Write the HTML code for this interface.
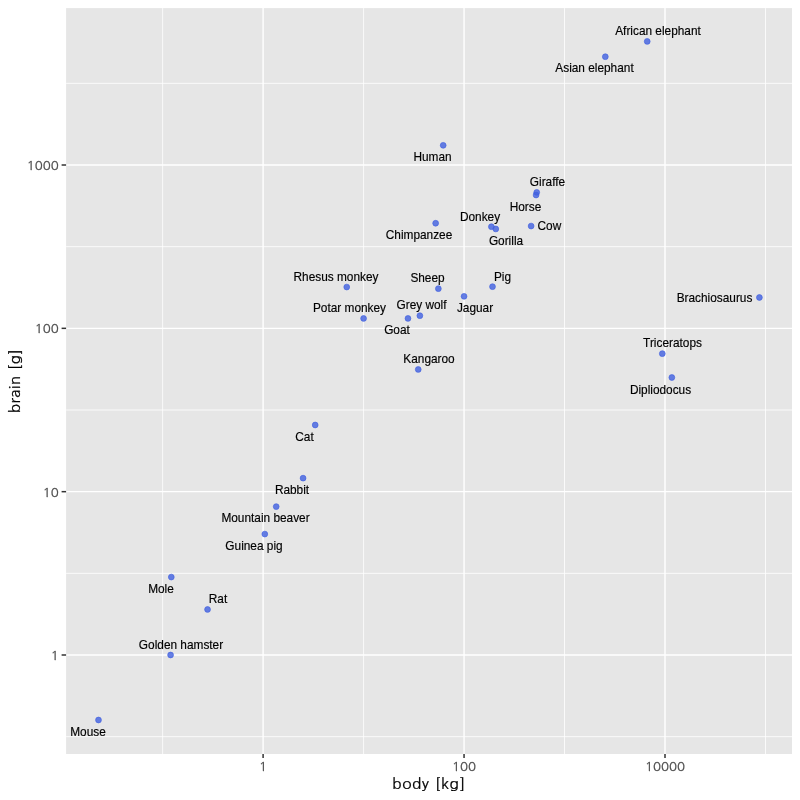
<!DOCTYPE html>
<html><head><meta charset="utf-8"><title>brain vs body</title>
<style>
html,body{margin:0;padding:0;background:#fff;}
svg{display:block;will-change:transform}
.lab{font-family:"Liberation Sans",sans-serif;font-size:11.85px;fill:#000;stroke:#000;stroke-width:0.15px;text-anchor:middle}
.tick{font-family:"NanumGothic","Liberation Sans",sans-serif;font-size:12.6px;fill:#4D4D4D;stroke:#4D4D4D;stroke-width:0.25px}
.title{font-family:"NanumGothic","Liberation Sans",sans-serif;font-size:13.6px;letter-spacing:0.4px;word-spacing:0.8px;fill:#000;stroke:#000;stroke-width:0.25px;text-anchor:middle}
</style></head><body>
<svg width="800" height="800" viewBox="0 0 800 800">
<rect x="0" y="0" width="800" height="800" fill="#fff"/>
<rect x="66.1" y="8.1" width="725.9" height="745.9" fill="#E6E6E6"/>
<line x1="162.63" x2="162.63" y1="8.1" y2="754" stroke="#fff" stroke-width="0.8"/>
<line x1="363.58" x2="363.58" y1="8.1" y2="754" stroke="#fff" stroke-width="0.8"/>
<line x1="564.52" x2="564.52" y1="8.1" y2="754" stroke="#fff" stroke-width="0.8"/>
<line x1="765.48" x2="765.48" y1="8.1" y2="754" stroke="#fff" stroke-width="0.8"/>
<line y1="736.66" y2="736.66" x1="66.1" x2="792" stroke="#fff" stroke-width="0.8"/>
<line y1="573.34" y2="573.34" x1="66.1" x2="792" stroke="#fff" stroke-width="0.8"/>
<line y1="410.00" y2="410.00" x1="66.1" x2="792" stroke="#fff" stroke-width="0.8"/>
<line y1="246.67" y2="246.67" x1="66.1" x2="792" stroke="#fff" stroke-width="0.8"/>
<line y1="83.34" y2="83.34" x1="66.1" x2="792" stroke="#fff" stroke-width="0.8"/>
<line x1="263.10" x2="263.10" y1="8.1" y2="754" stroke="#fff" stroke-width="1.4"/>
<line x1="263.10" x2="263.10" y1="754" y2="758" stroke="#333" stroke-width="1.5"/>
<text class="tick" transform="translate(263.10,771) scale(1.05,1.002)" text-anchor="middle">1</text>
<line x1="464.05" x2="464.05" y1="8.1" y2="754" stroke="#fff" stroke-width="1.4"/>
<line x1="464.05" x2="464.05" y1="754" y2="758" stroke="#333" stroke-width="1.5"/>
<text class="tick" transform="translate(464.05,771) scale(1.05,1.002)" text-anchor="middle">100</text>
<line x1="665.00" x2="665.00" y1="8.1" y2="754" stroke="#fff" stroke-width="1.4"/>
<line x1="665.00" x2="665.00" y1="754" y2="758" stroke="#333" stroke-width="1.5"/>
<text class="tick" transform="translate(665.00,771) scale(1.05,1.002)" text-anchor="middle">10000</text>
<line y1="655.00" y2="655.00" x1="66.1" x2="792" stroke="#fff" stroke-width="1.4"/>
<line y1="655.00" y2="655.00" x1="61.599999999999994" x2="66.1" stroke="#333" stroke-width="1.5"/>
<text class="tick" transform="translate(58.8,659.90) scale(1.05,1.002)" text-anchor="end">1</text>
<line y1="491.67" y2="491.67" x1="66.1" x2="792" stroke="#fff" stroke-width="1.4"/>
<line y1="491.67" y2="491.67" x1="61.599999999999994" x2="66.1" stroke="#333" stroke-width="1.5"/>
<text class="tick" transform="translate(58.8,496.57) scale(1.05,1.002)" text-anchor="end">10</text>
<line y1="328.34" y2="328.34" x1="66.1" x2="792" stroke="#fff" stroke-width="1.4"/>
<line y1="328.34" y2="328.34" x1="61.599999999999994" x2="66.1" stroke="#333" stroke-width="1.5"/>
<text class="tick" transform="translate(58.8,333.24) scale(1.05,1.002)" text-anchor="end">100</text>
<line y1="165.01" y2="165.01" x1="66.1" x2="792" stroke="#fff" stroke-width="1.4"/>
<line y1="165.01" y2="165.01" x1="61.599999999999994" x2="66.1" stroke="#333" stroke-width="1.5"/>
<text class="tick" transform="translate(58.8,169.91) scale(1.05,1.002)" text-anchor="end">1000</text>
<circle cx="276.20" cy="506.62" r="2.9" fill="#4160E0" fill-opacity="0.8" stroke="#4160E0" stroke-opacity="0.8" stroke-width="0.8"/>
<circle cx="531.11" cy="226.04" r="2.9" fill="#4160E0" fill-opacity="0.8" stroke="#4160E0" stroke-opacity="0.8" stroke-width="0.8"/>
<circle cx="419.87" cy="315.70" r="2.9" fill="#4160E0" fill-opacity="0.8" stroke="#4160E0" stroke-opacity="0.8" stroke-width="0.8"/>
<circle cx="407.97" cy="318.43" r="2.9" fill="#4160E0" fill-opacity="0.8" stroke="#4160E0" stroke-opacity="0.8" stroke-width="0.8"/>
<circle cx="264.81" cy="534.08" r="2.9" fill="#4160E0" fill-opacity="0.8" stroke="#4160E0" stroke-opacity="0.8" stroke-width="0.8"/>
<circle cx="671.85" cy="377.51" r="2.9" fill="#4160E0" fill-opacity="0.8" stroke="#4160E0" stroke-opacity="0.8" stroke-width="0.8"/>
<circle cx="605.32" cy="56.72" r="2.9" fill="#4160E0" fill-opacity="0.8" stroke="#4160E0" stroke-opacity="0.8" stroke-width="0.8"/>
<circle cx="491.39" cy="226.71" r="2.9" fill="#4160E0" fill-opacity="0.8" stroke="#4160E0" stroke-opacity="0.8" stroke-width="0.8"/>
<circle cx="536.07" cy="195.02" r="2.9" fill="#4160E0" fill-opacity="0.8" stroke="#4160E0" stroke-opacity="0.8" stroke-width="0.8"/>
<circle cx="363.58" cy="318.43" r="2.9" fill="#4160E0" fill-opacity="0.8" stroke="#4160E0" stroke-opacity="0.8" stroke-width="0.8"/>
<circle cx="315.20" cy="424.99" r="2.9" fill="#4160E0" fill-opacity="0.8" stroke="#4160E0" stroke-opacity="0.8" stroke-width="0.8"/>
<circle cx="536.74" cy="192.37" r="2.9" fill="#4160E0" fill-opacity="0.8" stroke="#4160E0" stroke-opacity="0.8" stroke-width="0.8"/>
<circle cx="495.80" cy="228.95" r="2.9" fill="#4160E0" fill-opacity="0.8" stroke="#4160E0" stroke-opacity="0.8" stroke-width="0.8"/>
<circle cx="443.19" cy="145.32" r="2.9" fill="#4160E0" fill-opacity="0.8" stroke="#4160E0" stroke-opacity="0.8" stroke-width="0.8"/>
<circle cx="647.22" cy="41.40" r="2.9" fill="#4160E0" fill-opacity="0.8" stroke="#4160E0" stroke-opacity="0.8" stroke-width="0.8"/>
<circle cx="662.30" cy="353.64" r="2.9" fill="#4160E0" fill-opacity="0.8" stroke="#4160E0" stroke-opacity="0.8" stroke-width="0.8"/>
<circle cx="346.75" cy="287.04" r="2.9" fill="#4160E0" fill-opacity="0.8" stroke="#4160E0" stroke-opacity="0.8" stroke-width="0.8"/>
<circle cx="418.24" cy="369.47" r="2.9" fill="#4160E0" fill-opacity="0.8" stroke="#4160E0" stroke-opacity="0.8" stroke-width="0.8"/>
<circle cx="170.58" cy="655.00" r="2.9" fill="#4160E0" fill-opacity="0.8" stroke="#4160E0" stroke-opacity="0.8" stroke-width="0.8"/>
<circle cx="98.49" cy="720.00" r="2.9" fill="#4160E0" fill-opacity="0.8" stroke="#4160E0" stroke-opacity="0.8" stroke-width="0.8"/>
<circle cx="303.08" cy="478.15" r="2.9" fill="#4160E0" fill-opacity="0.8" stroke="#4160E0" stroke-opacity="0.8" stroke-width="0.8"/>
<circle cx="438.36" cy="288.64" r="2.9" fill="#4160E0" fill-opacity="0.8" stroke="#4160E0" stroke-opacity="0.8" stroke-width="0.8"/>
<circle cx="464.05" cy="296.34" r="2.9" fill="#4160E0" fill-opacity="0.8" stroke="#4160E0" stroke-opacity="0.8" stroke-width="0.8"/>
<circle cx="435.65" cy="223.24" r="2.9" fill="#4160E0" fill-opacity="0.8" stroke="#4160E0" stroke-opacity="0.8" stroke-width="0.8"/>
<circle cx="207.55" cy="609.47" r="2.9" fill="#4160E0" fill-opacity="0.8" stroke="#4160E0" stroke-opacity="0.8" stroke-width="0.8"/>
<circle cx="759.40" cy="297.48" r="2.9" fill="#4160E0" fill-opacity="0.8" stroke="#4160E0" stroke-opacity="0.8" stroke-width="0.8"/>
<circle cx="492.51" cy="286.65" r="2.9" fill="#4160E0" fill-opacity="0.8" stroke="#4160E0" stroke-opacity="0.8" stroke-width="0.8"/>
<circle cx="171.30" cy="577.07" r="2.9" fill="#4160E0" fill-opacity="0.8" stroke="#4160E0" stroke-opacity="0.8" stroke-width="0.8"/>
<text class="lab" x="658" y="35.2">African elephant</text>
<text class="lab" x="594.5" y="72.2">Asian elephant</text>
<text class="lab" x="432.5" y="161.2">Human</text>
<text class="lab" x="547.5" y="186.2">Giraffe</text>
<text class="lab" x="525.5" y="211.2">Horse</text>
<text class="lab" x="480" y="221.2">Donkey</text>
<text class="lab" x="549.4" y="230.2">Cow</text>
<text class="lab" x="506" y="245.2">Gorilla</text>
<text class="lab" x="419" y="239.2">Chimpanzee</text>
<text class="lab" x="336" y="281.2">Rhesus monkey</text>
<text class="lab" x="427.5" y="282.2">Sheep</text>
<text class="lab" x="502.5" y="281.2">Pig</text>
<text class="lab" x="714.5" y="302.2">Brachiosaurus</text>
<text class="lab" x="349.5" y="312.2">Potar monkey</text>
<text class="lab" x="421.5" y="309.2">Grey wolf</text>
<text class="lab" x="475" y="312.2">Jaguar</text>
<text class="lab" x="397" y="334.2">Goat</text>
<text class="lab" x="672.5" y="347.2">Triceratops</text>
<text class="lab" x="429" y="363.2">Kangaroo</text>
<text class="lab" x="660.5" y="394.2">Dipliodocus</text>
<text class="lab" x="304.5" y="441.2">Cat</text>
<text class="lab" x="292" y="494.2">Rabbit</text>
<text class="lab" x="265.5" y="522.2">Mountain beaver</text>
<text class="lab" x="254" y="550.2">Guinea pig</text>
<text class="lab" x="161" y="593.2">Mole</text>
<text class="lab" x="218" y="603.2">Rat</text>
<text class="lab" x="181" y="649.2">Golden hamster</text>
<text class="lab" x="88" y="736.2">Mouse</text>
<text class="title" transform="translate(428.9,788.5) scale(1.135,1)">body [kg]</text>
<text class="title" transform="translate(19.5,381.0) rotate(-90) scale(1.10,1)">brain [g]</text>
</svg></body></html>
